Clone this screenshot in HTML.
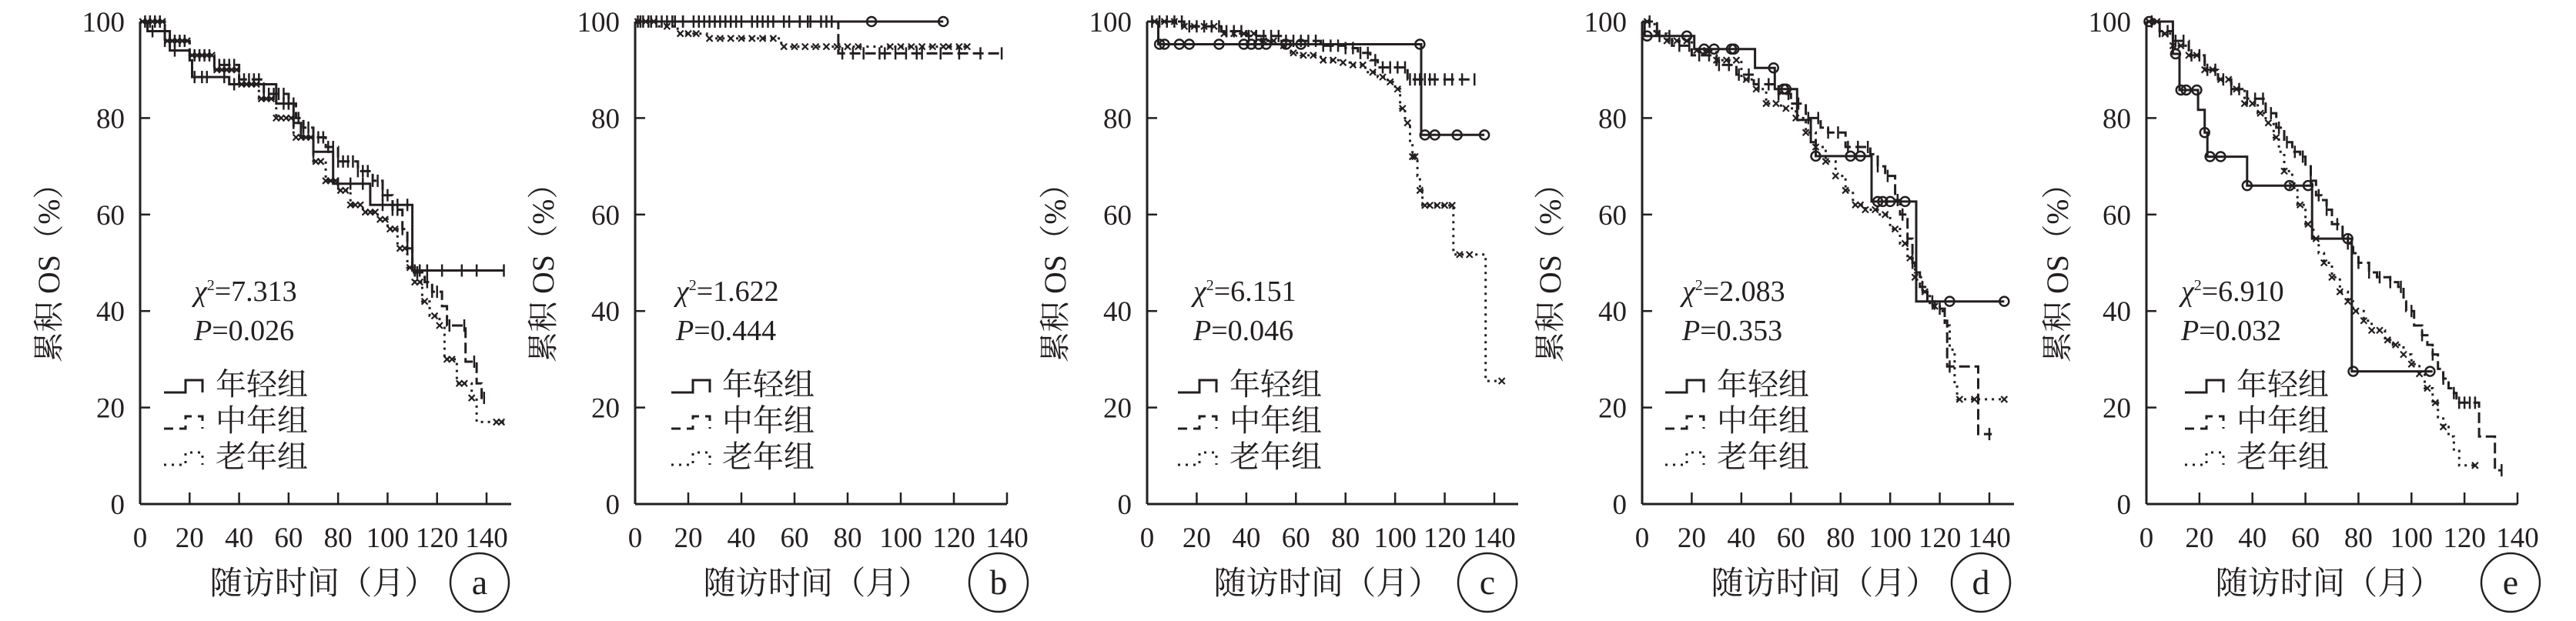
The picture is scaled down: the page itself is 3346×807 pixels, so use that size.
<!DOCTYPE html>
<html><head><meta charset="utf-8"><title>Kaplan-Meier OS curves</title>
<style>
html,body{margin:0;padding:0;background:#fff;}
svg{display:block;}
text{fill:#231f20;}
</style></head>
<body>
<svg id="fig" xmlns="http://www.w3.org/2000/svg" width="3346" height="807" viewBox="0 0 3346 807"></svg>
<script>
// ---------- data (time in months, survival in %) ----------
const xTicks = [0,20,40,60,80,100,120,140];
const yTicks = [0,20,40,60,80,100];
const legendLabels = ["年轻组","中年组","老年组"];
const panelLetters = ["a","b","c","d","e"];
const chiValues = ["7.313","1.622","6.151","2.083","6.910"];
const pValues = ["0.026","0.444","0.046","0.353","0.032"];

// panel a
const aYoung = [[0,100],[3,98],[12,94],[20,92],[21,88.5],[36,87],[55,83],[62,79],[65,76],[70,73],[78,66.4],[93,62],[110,48.4],[147,48.4]];
const aMid = [[0,100],[10,96],[20,93],[30,91],[40,88],[50,85],[60,83],[63,80],[66,78],[70,76],[75,74],[80,71],[88,69],[94,67],[98,64],[102,61],[106,57],[108,53],[110,48],[115,46],[118,44],[122,41],[124,37],[131,37],[131.5,29.5],[135,29.5],[136,25],[138,22],[140,22]];
const aOld = [[0,100],[10,96],[20,93],[30,90],[40,87],[48,84],[55,80],[62,76],[70,71],[75,67],[80,65],[85,62],[90,60.5],[96,59],[100,57],[104,53],[108,49],[111,46],[114,42],[117,39],[121,37],[123,30],[127,30],[128,25],[133,25],[134,22],[136,17],[147,17]];
const aYoungC = [5,10,14,22,25,27,34,38,58,60,62,70,80,85,90,98,104,108,111,113,116,122,130,136,147];
const aMidC = [2,4,6,8,10,12,14,16,18,20,22,24,26,28,30,32,34,36,38,40,42,44,46,48,50,52,54,56,58,60,62,64,66,68,70,72,74,76,78,80,82,84,86,88,90,92,94,96,98,100,102,104,106,108,112,116,118,120,125,131,135,139];
const aOldC = [1,3,5,7,9,11,13,15,17,19,21,23,25,27,29,31,33,35,37,39,41,43,45,47,49,51,53,55,57,59,61,63,65,67,69,71,73,75,77,79,81,83,85,87,89,91,93,95,97,99,101,103,105,107,109,111,113,115,119,121,124,126,129,131,134,144,146];

// panel b
const bYoung = [[0,100],[116,100]];
const bMid = [[0,100],[76,100],[76.5,93.4],[138,93.4]];
const bOld = [[0,100],[9,99],[16,97.5],[27,96.5],[55,94.8],[125,94.8]];
const bYoungC = [1,3,5,8,12,15,18,22,26,30,34,38,44,48,52,56,62,66,72,89,116];
const bMidC = [2,6,10,14,18,24,28,32,36,40,46,50,58,62,65,70,74,78,82,86,92,94,98,102,106,108,115,122,130,138];
const bOldC = [1,4,7,12,17,20,23,28,32,36,40,44,48,52,56,60,64,68,72,76,80,84,96,100,104,108,112,116,118,122,125];

// panel c
const cYoung = [[0,100],[4.5,95.3],[110,95.3],[110.5,76.5],[136,76.5]];
const cMid = [[0,100],[15,99],[30,98],[40,97],[55,96],[70,95],[80,94.5],[85,93.5],[90,92],[93,90.5],[103,90.5],[105,88],[132,88]];
const cOld = [[0,100],[15,99],[30,97.5],[45,96],[55,95],[58,93.5],[62,93],[70,92],[78,91.5],[82,91],[88,89.5],[93,88.5],[97,87.5],[100,86],[102,82],[104,79],[106,75],[107,72],[109,68],[110,65],[111,61.9],[123,61.9],[123.5,51.7],[136,51.7],[136.5,25.5],[143,25.5]];
const cYoungC = [5,7,13,17,29,39,42,45,48,56,62,110,112,116,125,136];
const cMidC = [2,5,8,11,14,17,20,23,26,29,32,35,38,41,44,47,50,53,56,59,62,65,68,71,74,77,80,83,86,89,92,95,98,101,104,106,108,110,112,114,116,120,123,127,132];
const cOldC = [3,7,11,15,19,23,27,31,35,39,43,47,51,55,59,63,67,71,75,79,83,87,91,95,98,101,103,105,107,108,110,112,114,117,120,123,126,130,143];

// panel d
const dYoung = [[0,100],[1,97],[18,97],[21,94.3],[45,94.3],[45.5,90.4],[53,90.4],[53.5,86],[62,86],[62.5,79.6],[68,75],[70,72.1],[92,72.1],[92.5,62.7],[110,62.7],[110.5,42],[146,42]];
const dMid = [[0,100],[6,97],[12,95],[20,93],[30,91],[38,89],[45,87],[55,85],[60,83],[66,80],[72,78],[75,77],[82,74],[92,72.5],[95,70],[98,68],[102,63],[104,60],[107,55],[109,50],[110,48],[112,45],[115,42],[118,40.5],[122,38],[123,28.5],[135,28.5],[135.5,14.5],[141,14.5]];
const dOld = [[0,100],[5,97.5],[10,96],[20,94],[30,92],[40,88],[45,86],[50,83],[56,82],[62,80],[66,77],[70,74],[74,71],[78,68],[82,65],[85,62],[90,61],[95,60],[100,57],[104,54],[107,51],[110,47],[113,44],[116,41],[120,40],[122,37],[124,32],[126,25],[127,21.7],[146,21.7]];
const dYoungC = [2,18,25,29,36,37,53,57,58,70,84,88,95,97,100,106,124,146];
const dMidC = [3,7,11,15,19,23,27,31,35,39,43,47,51,55,59,63,67,71,75,79,83,87,91,95,99,103,105,107,109,113,117,120,124,140];
const dOldC = [2,6,10,14,18,22,26,30,34,38,42,46,50,54,58,62,66,70,74,78,82,86,88,90,94,98,102,106,108,110,114,118,128,134,146];

// panel e
const eYoung = [[0,100],[10,93.3],[12.5,85.8],[19,85.8],[19.5,81.7],[22,77],[23,72],[37.5,72],[38,66],[62,66],[62.5,55],[77,55],[77.5,27.5],[108,27.5]];
const eMid = [[0,100],[5,98],[10,96],[16,93],[22,90],[27,88],[32,86],[38,84],[45,81],[49,78],[52,75],[55,73],[58,72],[60,70],[62,67],[64,64],[66,63],[68,61],[70,58],[74,55.5],[76,54],[78,52],[80,50],[84,48],[87,47],[92,46],[95,45],[97,42],[98,40],[101,37],[104,35],[106,33],[108,31],[110,28],[112,26],[114,24],[116,23],[117,21],[125,21],[125.5,14],[131,14],[131.5,7],[134,7]];
const eOld = [[0,100],[5,97.5],[10,95],[16,93],[22,90],[27,88],[32,86],[37,83],[42,81],[45,79],[48,76],[50,73],[52,69],[55,66],[57,62],[60,58],[63,55],[65,52],[67,50],[70,47],[73,44],[76,42],[78,40],[82,38],[85,36],[90,34],[93,33],[97,31],[100,29],[103,27],[105,24],[108,21],[110,18],[112,16],[114,14],[116,11],[118,8],[124,8]];
const eYoungC = [1,11,13,15,19,22,24,28,38,54,61,76,78,107];
const eMidC = [2,5,8,11,14,17,20,23,26,29,32,35,38,41,44,47,50,53,56,59,62,65,68,72,76,80,84,88,92,96,100,104,108,112,116,118,120,122,124,134];
const eOldC = [1,4,7,10,13,16,19,22,25,28,31,34,37,40,43,46,49,52,55,58,61,64,67,70,73,76,79,82,85,88,91,94,97,100,103,106,109,112,124];

const panelGeom = [
  {ax:182,x140:632,xend:664,young:aYoung,mid:aMid,old:aOld,yc:aYoungC,mc:aMidC,oc:aOldC,youngMark:"plus",st:70,lg:31,lt:98,yl:-120,xt:238,cl:441},
  {ax:825,x140:1308,xend:1308,young:bYoung,mid:bMid,old:bOld,yc:bYoungC,mc:bMidC,oc:bOldC,youngMark:"mixed",st:53,lg:47,lt:113,yl:-121,xt:236,cl:472},
  {ax:1490,x140:1941,xend:1972,young:cYoung,mid:cMid,old:cOld,yc:cYoungC,mc:cMidC,oc:cOldC,youngMark:"circle",st:60,lg:40,lt:107,yl:-121,xt:234,cl:442},
  {ax:2133,x140:2584,xend:2616,young:dYoung,mid:dMid,old:dOld,yc:dYoungC,mc:dMidC,oc:dOldC,youngMark:"circle",st:52,lg:30,lt:97,yl:-121,xt:237,cl:440},
  {ax:2788,x140:3270,xend:3270,young:eYoung,mid:eMid,old:eOld,yc:eYoungC,mc:eMidC,oc:eOldC,youngMark:"circle",st:45,lg:50,lt:117,yl:-117,xt:237,cl:473}
];

const NS = "http://www.w3.org/2000/svg";
const svg = document.getElementById("fig");
const Y100 = 28, Y0 = 655;
const INK = "#231f20";
const SERIF = '"Liberation Serif","Noto Serif CJK SC",serif';

function mk(tag, attrs, parent){
  const e = document.createElementNS(NS, tag);
  for (const k in attrs) e.setAttribute(k, attrs[k]);
  (parent||svg).appendChild(e);
  return e;
}
function survAt(series, t){
  let s = series[0][1];
  for (const p of series){ if (p[0] <= t) s = p[1]; else break; }
  return s;
}
function stepPath(series, xs, ys){
  let d = "M" + xs(series[0][0]).toFixed(1) + " " + ys(series[0][1]).toFixed(1);
  for (let i=1;i<series.length;i++){
    d += " H" + xs(series[i][0]).toFixed(1) + " V" + ys(series[i][1]).toFixed(1);
  }
  return d;
}

panelGeom.forEach((g, pi) => {
  const xs = t => g.ax + (g.x140 - g.ax) * t / 140;
  const ys = v => Y0 - (Y0 - Y100) * v / 100;
  const grp = mk("g", {});
  
  

  const yAxis = mk("line", {x1:g.ax, y1:Y100, x2:g.ax, y2:Y0, stroke:INK, "stroke-width":3}, grp);
  
  
  const xAxis = mk("line", {x1:g.ax, y1:Y0, x2:g.xend, y2:Y0, stroke:INK, "stroke-width":3}, grp);
  
  

  yTicks.forEach(v => {
    const tk = mk("line", {x1:g.ax, y1:ys(v), x2:g.ax+13, y2:ys(v), stroke:INK, "stroke-width":2.5}, grp);
    
    
    const tl = mk("text", {x:g.ax-20, y:ys(v)+13, "text-anchor":"end", "font-family":SERIF, "font-size":37}, grp);
    tl.textContent = v;
    
    
  });
  xTicks.forEach(v => {
    const tk = mk("line", {x1:xs(v), y1:Y0, x2:xs(v), y2:Y0-15, stroke:INK, "stroke-width":2.5}, grp);
    
    
    const tl = mk("text", {x:xs(v), y:711, "text-anchor":"middle", "font-family":SERIF, "font-size":37}, grp);
    tl.textContent = v;
    
    
  });

  const yt = mk("text", {x:0, y:0, "text-anchor":"middle", "font-family":SERIF, "font-size":40, textLength:252, lengthAdjust:"spacingAndGlyphs",
    transform:"translate(" + (g.ax + g.yl + 15) + ",345) rotate(-90)"}, grp);
  yt.textContent = "累积 OS（%）";
  
  
  const xt = mk("text", {x:g.ax + g.xt, y:772, "text-anchor":"middle", "font-family":SERIF, "font-size":42, textLength:295, lengthAdjust:"spacingAndGlyphs"}, grp);
  xt.textContent = "随访时间（月）";
  
  
  const ell = mk("ellipse", {cx:g.ax + g.cl, cy:757, rx:38, ry:38, fill:"none", stroke:INK, "stroke-width":2.5}, grp);
  
  
  const lt = mk("text", {x:g.ax + g.cl, y:772, "text-anchor":"middle", "font-family":SERIF, "font-size":46}, grp);
  lt.textContent = panelLetters[pi];
  
  

  const chi = mk("text", {x:g.ax + g.st, y:391, "font-family":SERIF, "font-size":38}, grp);
  
  
  const c1 = mk("tspan", {"font-style":"italic"}, chi); c1.textContent = "χ";
  const c2 = mk("tspan", {dy:-14, "font-size":20}, chi); c2.textContent = "2";
  const c3 = mk("tspan", {dy:14}, chi); c3.textContent = "=" + chiValues[pi];
  const pv = mk("text", {x:g.ax + g.st, y:442, "font-family":SERIF, "font-size":38}, grp);
  
  
  const p1 = mk("tspan", {"font-style":"italic"}, pv); p1.textContent = "P";
  const p2 = mk("tspan", {}, pv); p2.textContent = "=" + pValues[pi];

  const dashes = ["none", "12 8", "3 7"];
  const legY = [510, 557, 604];
  legendLabels.forEach((lab, li) => {
    const lx = g.ax + g.lg, ly = legY[li];
    const gl = mk("path", {d:"M" + lx + " " + ly + " H" + (lx+28) + " V" + (ly-16) + " H" + (lx+50) + " V" + ly,
      fill:"none", stroke:INK, "stroke-width":3, "stroke-dasharray":dashes[li]}, grp);
    
    
    const tx = mk("text", {x:g.ax + g.lt, y:ly + 3, "font-family":SERIF, "font-size":40}, grp);
    tx.textContent = lab;
    
    
  });

  const series = [
    {data:g.young, cens:g.yc, dash:"none", name:"young", mark:g.youngMark},
    {data:g.mid, cens:g.mc, dash:"14 6", name:"middle", mark:"plus"},
    {data:g.old, cens:g.oc, dash:"3 6", name:"old", mark:"x"}
  ];
  series.forEach(s => {
    const path = mk("path", {d:stepPath(s.data, xs, ys), fill:"none", stroke:INK, "stroke-width":3, "stroke-dasharray":s.dash}, grp);
    
    
    s.cens.forEach((t, ci) => {
      const cx = xs(t), cy = ys(survAt(s.data, t));
      let m;
      let kind = s.mark;
      if (kind === "mixed") kind = (ci === s.cens.length-1 || ci === s.cens.length-2) ? "circle" : "plus";
      if (kind === "circle") {
        m = mk("circle", {cx:cx, cy:cy, r:6, fill:"none", stroke:INK, "stroke-width":2.5}, grp);
      } else if (kind === "plus") {
        m = mk("path", {d:"M" + cx + " " + (cy-8) + " V" + (cy+8), stroke:INK, "stroke-width":2.5}, grp);
      } else {
        m = mk("path", {d:"M" + (cx-4) + " " + (cy-4) + " L" + (cx+4) + " " + (cy+4) + " M" + (cx+4) + " " + (cy-4) + " L" + (cx-4) + " " + (cy+4), stroke:INK, "stroke-width":2.2}, grp);
      }
      
      
    });
  });
});
</script>
</body></html>
